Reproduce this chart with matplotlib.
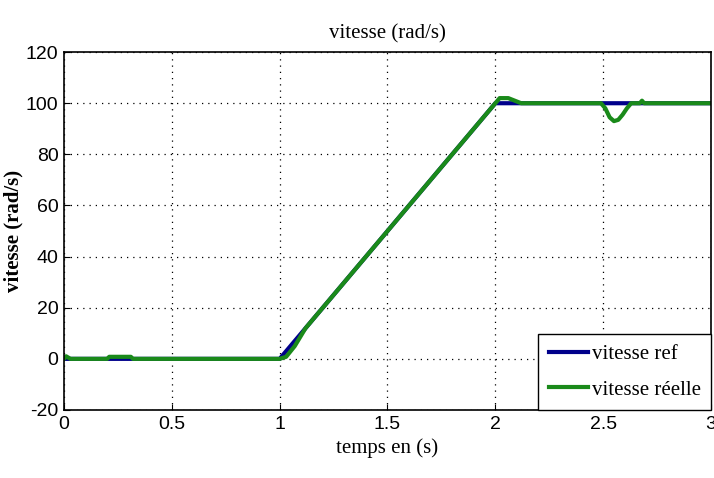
import matplotlib
matplotlib.use("Agg")
import matplotlib.pyplot as plt
from matplotlib import font_manager

# Reference speed profile (rad/s)
t_ref = [0.0, 1.0, 2.0, 3.0]
w_ref = [0.0, 0.0, 100.0, 100.0]

# Measured speed (rad/s)
t_real = [0.0, 0.01, 0.02, 0.03, 0.20, 0.21, 0.31, 0.32, 1.00, 1.03, 1.07, 1.12,
          2.00, 2.02, 2.06, 2.09, 2.12, 2.49, 2.51, 2.53, 2.55, 2.57, 2.59, 2.61, 2.63,
          2.67, 2.68, 2.69, 3.0]
w_real = [0.0, 1.0, 0.5, 0.0, 0.0, 0.8, 0.8, 0.0, 0.0, 0.8, 5.0, 12.0,
          100.0, 102.0, 102.0, 101.0, 100.0, 100.0, 98.0, 94.5, 93.0, 93.5, 95.5, 98.0, 100.0,
          100.0, 101.0, 100.0, 100.0]

xticks = [0, 0.5, 1, 1.5, 2, 2.5, 3]
xticklabels = ["0", "0.5", "1", "1.5", "2", "2.5", "3"]
yticks = [-20, 0, 20, 40, 60, 80, 100, 120]

plt.rcParams["axes.unicode_minus"] = False

names = {f.name for f in font_manager.fontManager.ttflist}
tick_font = "Liberation Sans Narrow" if "Liberation Sans Narrow" in names else "Liberation Sans"
serif = "Liberation Serif"

fig = plt.figure(figsize=(7.14, 4.78), dpi=100)
ax = fig.add_axes([0.0896, 0.1423, 0.9062, 0.7487])

ax.plot(t_ref, w_ref, color="#00008b", lw=3.0, label="vitesse ref")
ax.plot(t_real, w_real, color="#1a8a1a", lw=3.0, label="vitesse réelle")

ax.set_xlim(0, 3)
ax.set_ylim(-20, 120)
ax.set_xticks(xticks)
ax.set_xticklabels(xticklabels)
ax.set_yticks(yticks)
ax.grid(True, linestyle=(0, (1, 4)), color="black", linewidth=0.9)
ax.tick_params(direction="in", length=4, labelsize=14, pad=4)
for lab in ax.get_xticklabels() + ax.get_yticklabels():
    lab.set_fontfamily(tick_font)
for s in ax.spines.values():
    s.set_linewidth(1.2)

ax.set_title("vitesse (rad/s)", fontfamily=serif, fontsize=15, pad=10)
ax.set_xlabel("temps en (s)", fontfamily=serif, fontsize=15, labelpad=4)
ax.set_ylabel("vitesse (rad/s)", fontfamily=serif, fontsize=15, fontweight="bold", labelpad=2)

leg = ax.legend(loc="lower right", prop={"family": serif, "size": 15},
                fancybox=False, framealpha=1, edgecolor="black",
                handlelength=1.9, handletextpad=0.15, borderpad=0.5,
                labelspacing=0.75, borderaxespad=0.0)
leg.get_frame().set_linewidth(1.0)

fig.savefig("out.png", dpi=100, facecolor="white")
